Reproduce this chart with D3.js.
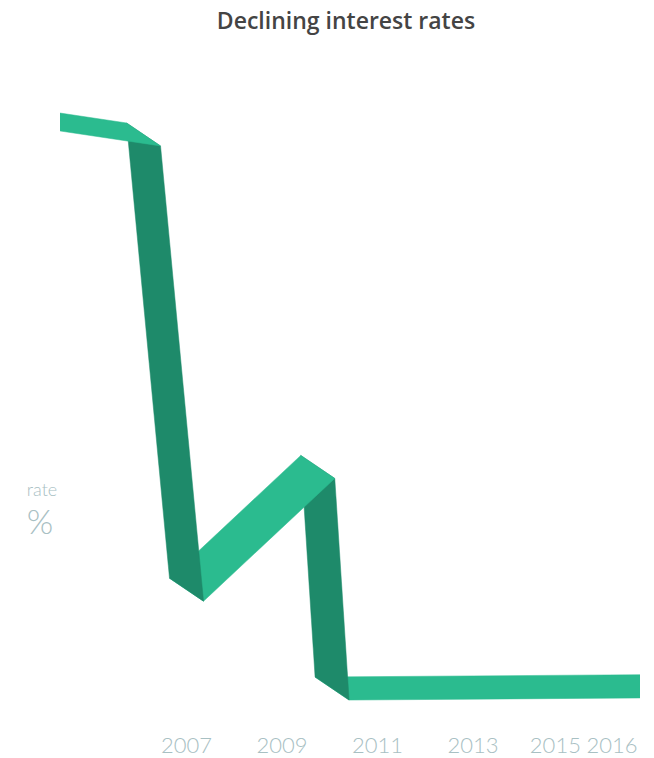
<!DOCTYPE html>
<html>
<head>
<meta charset="utf-8">
<script src="https://cdn.jsdelivr.net/npm/d3@7"></script>
<style>
  body { margin: 0; background: #fff; }
</style>
</head>
<body>
<div id="chart"></div>
<script>
// data (centre line of the ribbon)
const years = [2004.0, 2006.1, 2007.0, 2009.75, 2010.05, 2017.0];
const rates = [5.0, 4.875, 1.075, 2.1, 0.25, 0.27];
const tickYears = [2007, 2009, 2011, 2013, 2015, 2016];
const tickShift = [0, 0, 0, 0, -13, -4];

class Ribbon {
    constructor(option) {
        for (let [key, value] of Object.entries(option)) {
            this[key] = value;
        }
        this.left = 60;
        this.right = 640;
        this.off = [34, 23];   // ribbon cross-section
        this.creatSvg();
        this.creatScale();
        this.creatRibbon();
        this.creatText();
    }
    creatSvg() {
        this.svg = d3.select(this.ele)
            .append('svg')
            .attr('width', this.width)
            .attr('height', this.height);
    }
    creatScale() {
        this.x = d3.scaleLinear()
            .domain([2004.35, 2016.5])
            .range([this.left, this.right]);
        this.y = d3.scaleLinear()
            .domain([0, 5])
            .range([718.5, 119.5]);
    }
    creatRibbon() {
        let _this = this;
        let hx = this.off[0] / 2, hy = this.off[1] / 2;
        let pts = this.years.map((d, i) => [_this.x(d), _this.y(_this.rates[i])]);
        let segs = d3.pairs(pts).map((p, i) => ({ i: i, a: p[0], b: p[1] }));
        let colour = function(s) {
            let dx = s.b[0] - s.a[0], dy = s.b[1] - s.a[1];
            return dy > dx ? '#1e8a6a' : '#2bbb8f';
        };

        this.svg.append('clipPath')
            .attr('id', 'clip')
            .append('rect')
            .attr('x', this.left)
            .attr('y', 0)
            .attr('width', this.right - this.left)
            .attr('height', this.height);

        // earlier segments lie on top of later ones at every fold
        segs.reverse();
        this.svg.append('g')
            .attr('clip-path', 'url(#clip)')
            .selectAll('path')
            .data(segs)
            .enter()
            .append('path')
            .attr('d', function(s) {
                let a = s.a, b = s.b;
                return 'M' + [a[0] - hx, a[1] - hy] +
                       'L' + [b[0] - hx, b[1] - hy] +
                       'L' + [b[0] + hx, b[1] + hy] +
                       'L' + [a[0] + hx, a[1] + hy] + 'Z';
            })
            .style('fill', colour)
            .style('stroke', colour)
            .style('stroke-width', 0.5);
    }
    creatText() {
        let _this = this;
        this.svg.append('text')
            .attr('x', 346)
            .attr('y', 29)
            .attr('text-anchor', 'middle')
            .style('font-family', '"Open Sans", sans-serif')
            .style('font-weight', 600)
            .style('font-size', '23px')
            .style('fill', '#444')
            .text('Declining interest rates');

        this.svg.append('g')
            .selectAll('text')
            .data(this.tickYears)
            .enter()
            .append('text')
            .attr('x', (d, i) => _this.x(d) + _this.tickShift[i])
            .attr('y', 753)
            .attr('text-anchor', 'middle')
            .style('font-family', 'Lato, sans-serif')
            .style('font-weight', 300)
            .style('font-size', '22px')
            .style('fill', '#a8c0c3')
            .text(d => d);

        this.svg.append('text')
            .attr('x', 42)
            .attr('y', 496)
            .attr('text-anchor', 'middle')
            .style('font-family', 'Lato, sans-serif')
            .style('font-weight', 300)
            .style('font-size', '18px')
            .style('fill', '#a8c0c3')
            .text('rate');
        this.svg.append('text')
            .attr('x', 40)
            .attr('y', 534)
            .attr('text-anchor', 'middle')
            .style('font-family', 'Lato, sans-serif')
            .style('font-weight', 300)
            .style('font-size', '34px')
            .style('fill', '#a8c0c3')
            .text('%');
    }
}

new Ribbon({
    ele: document.getElementById('chart'),
    width: 654,
    height: 758,
    years: years,
    rates: rates,
    tickYears: tickYears,
    tickShift: tickShift
});
</script>
</body>
</html>
